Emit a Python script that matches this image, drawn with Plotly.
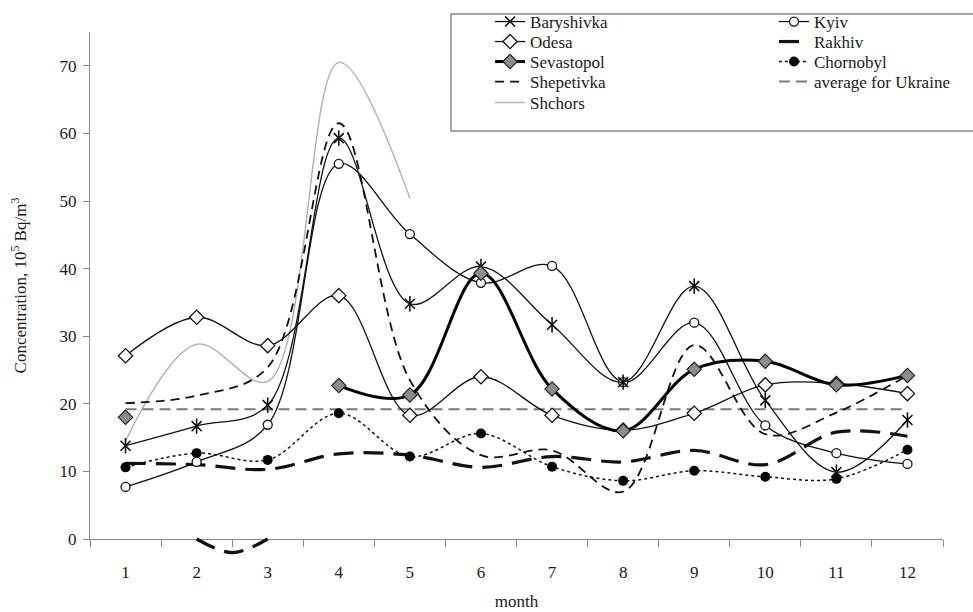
import plotly.graph_objects as go

months = list(range(1, 13))

baryshivka = [13.8, 16.7, 19.8, 59.3, 34.8, 40.3, 31.7, 23.2, 37.4, 20.5, 9.9, 17.6]
kyiv = [7.7, 11.4, 16.9, 55.5, 45.1, 37.9, 40.4, 23.2, 32.0, 16.8, 12.7, 11.1]
odesa = [27.1, 32.8, 28.6, 36.0, 18.3, 24.0, 18.3, 16.1, 18.6, 22.8, 23.0, 21.5]
rakhiv = [11.2, 11.0, 10.3, 12.6, 12.4, 10.6, 12.2, 11.4, 13.1, 11.0, 15.8, 15.2]
sevastopol = [18.0, None, None, 22.7, 21.3, 39.3, 22.2, 16.0, 25.1, 26.3, 22.8, 24.2]
chornobyl = [10.6, 12.7, 11.7, 18.6, 12.2, 15.6, 10.7, 8.6, 10.1, 9.2, 8.9, 13.2]
shepetivka = [20.1, 21.2, 25.4, 61.5, 23.5, 12.4, 13.1, 7.0, 28.7, 15.5, 18.7, 24.2]
average_ukraine = [19.2] * 12
shchors = [14.5, 28.8, 23.3, 70.5, 50.4]

# short Rakhiv arc that runs below the zero line between months 2 and 3
rakhiv_arc_x = [2, 2.5, 3]
rakhiv_arc_y = [0, -2.0, 0]

y_ticks = [0, 10, 20, 30, 40, 50, 60, 70]

SERIF = "Liberation Serif, Times New Roman, serif"
AXIS_GREY = "#8a8a8a"
TEXT = "#1a1a1a"
INK = "#111111"

# plot area spans pixel rows 4..572 of the 612 px page
AREA_TOP, AREA_BOTTOM = 4, 572


def paper_y(py):
    return (AREA_BOTTOM - py) / (AREA_BOTTOM - AREA_TOP)


# legend layout: two columns, one small legend per entry
LEGEND_COL_X = [0.469, 0.8019]
LEGEND_ROW_Y = [22, 42, 62, 82, 103]

fig = go.Figure()


def spline(**kw):
    return dict(shape="spline", smoothing=1, **kw)


def slot(col, row):
    return f"legend{col * 5 + row + 1}" if (col, row) != (0, 0) else "legend"


# drawing order: light lines first, heavy ones on top
fig.add_trace(go.Scatter(
    x=months[:len(shchors)], y=shchors, name="Shchors", mode="lines",
    line=spline(color="#b4b4b4", width=1.5), legend=slot(0, 4)))
fig.add_trace(go.Scatter(
    x=months, y=average_ukraine, name="average for Ukraine", mode="lines",
    line=dict(color="#7a7a7a", width=2, dash="11px,6px"), legend=slot(1, 3)))
fig.add_trace(go.Scatter(
    x=months, y=shepetivka, name="Shepetivka", mode="lines",
    line=spline(color=INK, width=1.8, dash="9px,6px"), legend=slot(0, 3)))
fig.add_trace(go.Scatter(
    x=months, y=rakhiv, name="Rakhiv", mode="lines",
    line=spline(color=INK, width=3.2, dash="20px,10px"), legend=slot(1, 1)))
fig.add_trace(go.Scatter(
    x=rakhiv_arc_x, y=rakhiv_arc_y, mode="lines", showlegend=False,
    xaxis="x2", yaxis="y2",
    line=spline(color=INK, width=3.2, dash="20px,10px")))
fig.add_trace(go.Scatter(
    x=months, y=chornobyl, name="Chornobyl", mode="lines+markers",
    line=spline(color=INK, width=1.5, dash="dot"),
    marker=dict(symbol="circle", size=10, color="#000"), legend=slot(1, 2)))
fig.add_trace(go.Scatter(
    x=months, y=odesa, name="Odesa", mode="lines+markers",
    line=spline(color=INK, width=1.3),
    marker=dict(symbol="diamond", size=11, color="white",
                line=dict(color=INK, width=1.3)), legend=slot(0, 1)))
fig.add_trace(go.Scatter(
    x=months, y=kyiv, name="Kyiv", mode="lines+markers",
    line=spline(color=INK, width=1.3),
    marker=dict(symbol="circle", size=9, color="white",
                line=dict(color=INK, width=1.3)), legend=slot(1, 0)))
fig.add_trace(go.Scatter(
    x=months, y=baryshivka, name="Baryshivka", mode="lines+markers",
    line=spline(color=INK, width=1.3),
    marker=dict(symbol="x-thin-open", size=10, color=INK,
                line=dict(color=INK, width=1.6)), legend=slot(0, 0)))
# vertical stroke completing the six-armed star markers
fig.add_trace(go.Scatter(
    x=months, y=baryshivka, mode="markers", showlegend=False,
    marker=dict(symbol="line-ns-open", size=11, color=INK,
                line=dict(color=INK, width=1.6))))
fig.add_trace(go.Scatter(
    x=months, y=sevastopol, name="Sevastopol", mode="lines+markers",
    connectgaps=False,
    line=spline(color="#000", width=3),
    marker=dict(symbol="diamond", size=11, color="#8c8c8c",
                line=dict(color="#222", width=1.2)), legend=slot(0, 2)))

legend_layout = {}
for col, cx in enumerate(LEGEND_COL_X):
    for row, ry in enumerate(LEGEND_ROW_Y):
        if col == 1 and row == 4:
            continue
        legend_layout[slot(col, row)] = dict(
            orientation="v", x=cx, y=paper_y(ry),
            xanchor="left", yanchor="middle",
            bgcolor="rgba(0,0,0,0)", borderwidth=0,
            font=dict(family=SERIF, size=17, color=TEXT),
        )

fig.update_layout(
    width=973, height=612,
    margin=dict(l=90, r=30, t=AREA_TOP, b=612 - AREA_BOTTOM),
    paper_bgcolor="white", plot_bgcolor="rgba(0,0,0,0)",
    font=dict(family=SERIF, size=16, color=TEXT),
    showlegend=True,
    xaxis=dict(
        range=[0.5, 12.5], domain=[0, 1], anchor="y",
        tickmode="array", tickvals=months, ticktext=[str(m) for m in months],
        ticks="outside", ticklen=7, tickcolor="rgba(0,0,0,0)",
        ticklabelstandoff=10,
        minor=dict(tickmode="array", tickvals=[m - 0.5 for m in months] + [12.5],
                   ticks="outside", ticklen=7, tickcolor=AXIS_GREY, tickwidth=1),
        showline=True, linecolor=AXIS_GREY, linewidth=1.2,
        showgrid=False, zeroline=False,
        tickfont=dict(family=SERIF, size=17, color=TEXT),
        title=dict(text="month", standoff=14,
                   font=dict(family=SERIF, size=17, color=TEXT)),
        automargin=False,
    ),
    yaxis=dict(
        range=[0, 75], domain=[paper_y(539), paper_y(32)], anchor="x",
        tickmode="array", tickvals=y_ticks,
        ticks="outside", ticklen=6, tickcolor=AXIS_GREY,
        ticklabelstandoff=3,
        showline=True, linecolor=AXIS_GREY, linewidth=1.2,
        showgrid=False, zeroline=False,
        tickfont=dict(family=SERIF, size=17, color=TEXT),
        title=dict(text="Concentration, 10<sup>5</sup> Bq/m<sup>3</sup>",
                   standoff=28,
                   font=dict(family=SERIF, size=17, color=TEXT)),
        automargin=False,
    ),
    xaxis2=dict(range=[0.5, 12.5], domain=[0, 1], anchor="y2", visible=False),
    yaxis2=dict(range=[-4.88, 75], domain=[0, paper_y(32)], anchor="x2",
                visible=False),
    shapes=[dict(
        type="rect", xref="paper", yref="paper", layer="above",
        x0=0.4232, x1=1.06, y0=paper_y(131), y1=paper_y(14),
        line=dict(color=AXIS_GREY, width=1.5), fillcolor="white",
    )],
    **legend_layout,
)

fig.write_html("out.html")
